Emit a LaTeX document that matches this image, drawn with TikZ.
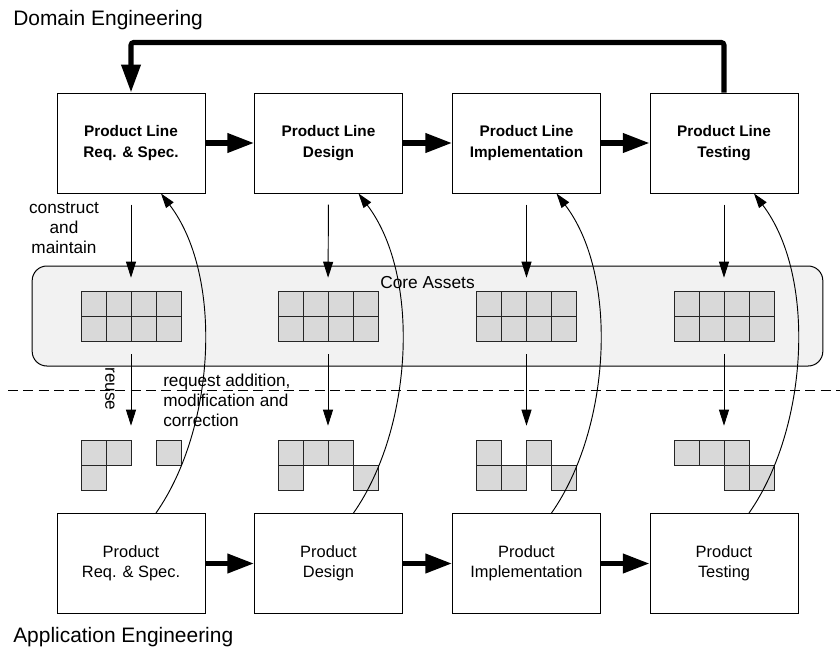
\documentclass[tikz,border=0pt]{standalone}
\usepackage{fontspec}
\setmainfont{Liberation Sans}
\usetikzlibrary{arrows.meta,calc}
\definecolor{cellgray}{HTML}{D9D9D9}
\definecolor{coregray}{HTML}{F2F2F2}
\begin{document}
\begin{tikzpicture}[x=0.75pt,y=-0.75pt,
  stagebox/.style={draw, line width=0.75pt, minimum width=111pt, minimum height=75pt, inner sep=0pt, align=center},
  dombox/.style={stagebox, font=\bfseries\fontsize{11.5}{15.5}\selectfont},
  appbox/.style={stagebox, font=\fontsize{12.3}{15}\selectfont},
  gridnode/.style={minimum width=75pt, minimum height=37.5pt, inner sep=0pt},
  cell/.style={fill=cellgray, draw=black!85, line width=0.75pt},
  thinarr/.style={line width=0.7pt, -{Triangle[length=12pt,width=7.5pt]}},
  thickarr/.style={line width=3.8pt, -{Triangle[length=20pt,width=14pt]}},
  curvarr/.style={line width=0.7pt, -{Triangle[length=11pt,width=7pt]}},
  lbl/.style={font=\fontsize{12.9}{15}\selectfont, inner sep=0pt},
  title/.style={font=\fontsize{15.7}{18}\selectfont, inner sep=0pt, anchor=west}
]
\useasboundingbox (0,0) rectangle (840,651);

% titles
\node[title] (dom) at (13,20) {Domain Engineering};
\node[title] (app) at (13,637) {Application Engineering};

% core assets box
\node[draw, line width=0.75pt, fill=coregray, rounded corners=11pt, minimum width=593pt, minimum height=75pt] (core) at (427.5,316) {};
\node[lbl, font=\fontsize{13}{15}\selectfont] (coretxt) at (427.5,283) {Core Assets};

% domain boxes
\node[dombox] (t1) at (131,143) {Product Line\\Req. \& Spec.};
\node[dombox] (t2) at (328.5,143) {Product Line\\Design};
\node[dombox] (t3) at (526.5,143) {Product Line\\Implementation};
\node[dombox] (t4) at (724,143) {Product Line\\Testing};

% application boxes
\node[appbox] (b1) at (131,563.5) {Product\\Req. \& Spec.};
\node[appbox] (b2) at (328.5,563.5) {Product\\Design};
\node[appbox] (b3) at (526.5,563.5) {Product\\Implementation};
\node[appbox] (b4) at (724,563.5) {Product\\Testing};

% core asset grids
\foreach \n/\cx in {1/131,2/328,3/526.5,4/724}{
  \node[gridnode] (g\n) at (\cx,316) {};
  \node[gridnode] (p\n) at (\cx,465) {};
  \foreach \i in {0,...,3}{
    \foreach \j in {0,1}{
      \draw[cell] ($(\cx-50,291)+(25*\i,25*\j)$) rectangle ++(25,25);
    }
  }
}
% partial grids (col,row)
\foreach \cx/\cells in {131/{0/0,1/0,3/0,0/1}, 328/{0/0,1/0,2/0,0/1,3/1}, 526.5/{0/0,2/0,0/1,1/1,3/1}, 724/{0/0,1/0,2/0,2/1,3/1}}{
  \foreach \i/\j in \cells{
    \draw[cell] ($(\cx-50,440)+(25*\i,25*\j)$) rectangle ++(25,25);
  }
}

% dashed separator
\coordinate (dl) at (8,390);
\coordinate (dr) at (840,390);
\draw[line width=0.7pt, dash pattern=on 7.5pt off 4pt] (dl) -- (dr);

% construct arrows
\foreach \n in {1,2,3,4}{
  \draw[thinarr, shorten <=8.25pt, shorten >=9.75pt] (t\n.south) -- (g\n.north);
  \draw[thinarr, shorten <=9.75pt, shorten >=10.5pt] (g\n.south) -- (p\n.north);
}

% thick flow arrows
\draw[thickarr] (t1.east) -- (t2.west);
\draw[thickarr] (t2.east) -- (t3.west);
\draw[thickarr] (t3.east) -- (t4.west);
\draw[thickarr] (b1.east) -- (b2.west);
\draw[thickarr] (b2.east) -- (b3.west);
\draw[thickarr] (b3.east) -- (b4.west);
\draw[line width=3.8pt, rounded corners=2pt, -{Triangle[length=21pt,width=14pt]}] (t4.north) -- ++(0,-50) -| (t1.north);

% feedback curves
\foreach \n in {1,2,3,4}{
  \draw[curvarr] ($(b\n.north)+(25,0)$) .. controls +(59,-84) and +(63,83) .. ($(t\n.south)+(30,0)$);
}

% labels
\node[lbl, align=center] (cm) at (64,228) {construct\\and\\maintain};
\node[lbl, rotate=-90] (reuse) at (110,389) {reuse};
\node[lbl, align=left, anchor=north west] (req) at (163,374) {request addition,\\modification and\\correction};
\end{tikzpicture}
\end{document}
